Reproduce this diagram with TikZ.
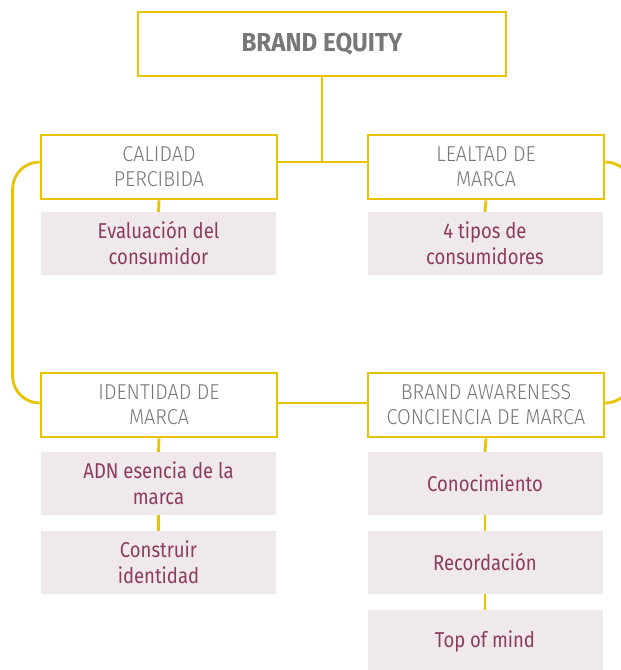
\documentclass[tikz,border=0pt]{standalone}
\usepackage{fontspec}
\setmainfont{Fira Sans}[FakeStretch=0.86]
\newfontfamily\lightf{Fira Sans Light}[FakeStretch=0.92]
\newfontfamily\boldf{Fira Sans}[FakeStretch=0.93]
\definecolor{gold}{HTML}{E9C300}
\definecolor{pinkfill}{HTML}{EFE9EC}
\definecolor{maroon}{HTML}{8C3B5F}
\definecolor{greytxt}{HTML}{777777}
\tikzset{
  headbox/.style={draw=gold, line width=2.8pt, fill=white, minimum width=236pt, minimum height=64pt, align=center, text=greytxt, font=\lightf\fontsize{21.5}{25}\selectfont, inner sep=0pt},
  topbox/.style={headbox, minimum width=368pt, font=\boldf\bfseries\fontsize{26}{30}\selectfont},
  itembox/.style={fill=pinkfill, minimum width=235pt, minimum height=63pt, align=center, text=maroon, font=\fontsize{21.5}{26}\selectfont, inner sep=0pt},
  link/.style={draw=gold, line width=2.8pt}
}
\begin{document}
\begin{tikzpicture}[x=1pt,y=-1pt]
\useasboundingbox (0,0) rectangle (621,670);
\clip (0,0) rectangle (621,670);
\fill[white] (0,0) rectangle (621,670);
\node[topbox] (top) at (322,44) {BRAND EQUITY};
\node[headbox] (cal) at (159,167) {CALIDAD\\PERCIBIDA};
\node[headbox] (leal) at (486,167) {LEALTAD DE\\MARCA};
\node[headbox] (iden) at (159,405) {IDENTIDAD DE\\MARCA};
\node[headbox] (aware) at (486,405) {BRAND AWARENESS\\CONCIENCIA DE MARCA};
\node[itembox] (eval) at (158.5,243.5) {Evaluación del\\consumidor};
\node[itembox] (tipos) at (485,243.5) {4 tipos de\\consumidores};
\node[itembox] (adn) at (158.5,483.5) {ADN esencia de la\\marca};
\node[itembox] (cons) at (158.5,562.5) {Construir\\identidad};
\node[itembox] (cono) at (485,483.5) {Conocimiento};
\node[itembox] (reco) at (485,562.5) {Recordación};
\node[itembox] (tom) at (485,641.5) {Top of mind};
% connectors
\coordinate (j) at ([yshift=5pt]cal.east -| top.south);
\draw[link] (top.south) -- (j);
\draw[link] ([yshift=5pt]cal.east) -- ([yshift=5pt]leal.west);
\draw[link] ([yshift=2pt]iden.east) -- ([yshift=2pt]aware.west);
\draw[link, rounded corners=27pt] ([yshift=5pt]cal.west) -- ++(-27,0) |- ([yshift=2pt]iden.west);
\draw[link, rounded corners=27pt] ([yshift=5pt]leal.east) -- ++(27,0) |- ([yshift=2pt]aware.east);
\draw[link] (cal.south) -- (eval.north);
\draw[link] (leal.south) -- (tipos.north);
\draw[link] (iden.south) -- (adn.north);
\draw[link] (adn.south) -- (cons.north);
\draw[link] (aware.south) -- (cono.north);
\draw[link] (cono.south) -- (reco.north);
\draw[link] (reco.south) -- (tom.north);
\end{tikzpicture}
\end{document}
